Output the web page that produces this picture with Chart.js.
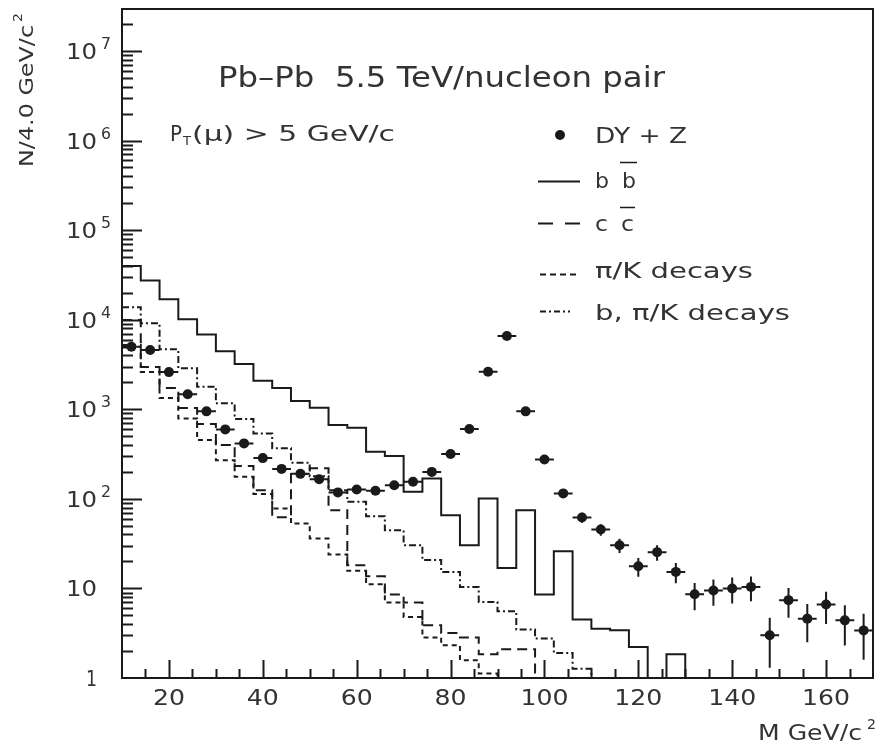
<!DOCTYPE html>
<html>
<head>
<meta charset="utf-8">
<script src="https://cdn.jsdelivr.net/npm/chart.js@4.4.1/dist/chart.umd.min.js"></script>
<style>
html, body { margin: 0; padding: 0; background: #fff; }
#wrap { width: 878px; height: 741px; }
</style>
</head>
<body>
<div id="wrap"><canvas id="massChart" width="878" height="741"></canvas></div>
<script>
// mass bins: centres of 4 GeV bins from 10 to 170 GeV/c2
const massBins = [12, 16, 20, 24, 28, 32, 36, 40, 44, 48, 52, 56, 60, 64, 68, 72, 76, 80, 84, 88,
                  92, 96, 100, 104, 108, 112, 116, 120, 124, 128, 132, 136, 140, 144, 148, 152, 156, 160, 164, 168];
const binHalf = 2;

// DY + Z points and their errors
const dyZ = [4990, 4580, 2600, 1470, 948, 596, 416, 285, 216, 190, 166, 118, 127, 123, 142, 155, 200, 316, 601, 2624,
             6580, 948, 275, 115, 62, 45.5, 30.4, 17.7, 25.4, 15.3, 8.6, 9.5, 10.0, 10.4, 3.0, 7.4, 4.6, 6.6, 4.4, 3.4];
const dyZErr = [71, 68, 51, 38, 31, 24, 20, 17, 15, 14, 13, 11, 11, 11, 12, 12, 14, 18, 25, 51,
                81, 31, 17, 11, 8, 6.7, 5.5, 4.2, 5.0, 3.9, 2.9, 3.1, 3.2, 3.2, 1.7, 2.7, 2.1, 2.6, 2.1, 1.8];

// histograms (0 = empty bin)
const bbHist = [39800, 27300, 16900, 10100, 6830, 4450, 3210, 2080, 1730, 1240, 1040, 666, 621, 335, 300, 120, 169, 65.8, 30.4, 101,
                16.9, 74.8, 8.55, 26.0, 4.49, 3.55, 3.41, 2.22, 0, 1.84, 0, 0, 0, 0, 0, 0, 0, 0, 0, 0];
const ccHist = [9930, 2963, 1726, 1031, 684, 398, 232, 125, 62.5, 189, 219, 74.8, 18.2, 13.7, 8.55, 6.96, 3.88, 3.18, 2.83, 1.84,
                2.09, 2.09, 0, 0, 0, 0, 0, 0, 0, 0, 0, 0, 0, 0, 0, 0, 0, 0, 0, 0];
const piKHist = [5215, 2605, 1334, 791, 453, 270, 176, 113, 78.1, 53.1, 36.1, 23.9, 15.7, 11.1, 6.96, 4.80, 2.83, 2.32, 1.58, 1.12,
                 0, 0, 0, 0, 0, 0, 0, 0, 0, 0, 0, 0, 0, 0, 0, 0, 0, 0, 0, 0];
const bPiKHist = [13770, 9120, 4670, 2865, 1785, 1165, 777, 538, 366, 253, 179, 125, 92.6, 64.1, 44.7, 30.4, 20.7, 15.3, 10.4, 7.07,
                  5.56, 3.47, 2.76, 1.90, 1.27, 0, 0, 0, 0, 0, 0, 0, 0, 0, 0, 0, 0, 0, 0, 0];

// axis ticks
const xTicks = [20, 40, 60, 80, 100, 120, 140, 160];
const yTicks = [1, 10, 1e2, 1e3, 1e4, 1e5, 1e6, 1e7];
const yTickBase = ['1', '10', '10', '10', '10', '10', '10', '10'];
const yTickExp = ['', '', '2', '3', '4', '5', '6', '7'];

const INK = '#1a1a1a';
const TEXT = '#333';
const FONT = '"DejaVu Sans", sans-serif';

// histogram -> step line points (empty bins pushed below the axis, clipped)
function stepPoints(vals) {
    const pts = vals.map((v, i) => ({ x: massBins[i] - binHalf, y: v > 0 ? v : 0.05 }));
    const last = vals[vals.length - 1];
    pts.push({ x: massBins[massBins.length - 1] + binHalf, y: last > 0 ? last : 0.05 });
    return pts;
}

const hBars = [];
const vBars = [];
massBins.forEach((m, i) => {
    hBars.push({ x: m - binHalf, y: dyZ[i] }, { x: m + binHalf, y: dyZ[i] }, { x: m, y: null });
    vBars.push({ x: m, y: dyZ[i] - dyZErr[i] }, { x: m, y: dyZ[i] + dyZErr[i] }, { x: m, y: null });
});

function histSet(label, vals, dash) {
    return {
        label: label,
        data: stepPoints(vals),
        stepped: true,
        borderColor: INK,
        borderWidth: 2,
        borderDash: dash,
        pointRadius: 0,
        fill: false
    };
}

// text squeezed/stretched to the width it has in the picture
function fitText(ctx, text, x, y, width, size, align) {
    ctx.save();
    ctx.font = size + 'px ' + FONT;
    const w = ctx.measureText(text).width;
    ctx.translate(x, y);
    ctx.scale(width / w, 1);
    ctx.textAlign = 'left';
    ctx.textBaseline = 'alphabetic';
    let off = 0;
    if (align === 'right') off = -w;
    if (align === 'center') off = -w / 2;
    ctx.fillText(text, off, 0);
    ctx.restore();
}

const framePlugin = {
    id: 'frame',
    afterDraw(chart) {
        const { ctx, chartArea: a } = chart;
        const xs = chart.scales.x;
        const ys = chart.scales.y;
        ctx.save();
        ctx.strokeStyle = INK;
        ctx.fillStyle = TEXT;
        ctx.lineWidth = 2;
        ctx.setLineDash([]);
        ctx.strokeRect(a.left, a.top, a.right - a.left, a.bottom - a.top);

        // y ticks, drawn inward
        ctx.beginPath();
        for (let d = 0; d <= 7; d++) {
            for (let m = 1; m <= 9; m++) {
                const v = m * Math.pow(10, d);
                if (v === 1) continue;
                if (v > ys.max) break;
                const py = Math.round(ys.getPixelForValue(v)) + 0.5;
                const len = m === 1 ? 20 : 11;
                ctx.moveTo(a.left, py);
                ctx.lineTo(a.left + len, py);
            }
        }
        // x ticks every 5
        for (let v = 15; v < xs.max; v += 5) {
            const px = Math.round(xs.getPixelForValue(v)) + 0.5;
            const len = xTicks.includes(v) ? 18 : 9;
            ctx.moveTo(px, a.bottom);
            ctx.lineTo(px, a.bottom - len);
        }
        ctx.stroke();

        // y tick labels
        yTicks.forEach((v, i) => {
            const py = ys.getPixelForValue(v);
            const w = yTickBase[i].length === 1 ? 11 : 31;
            fitText(ctx, yTickBase[i], 97, py + 8, w, 21, 'right');
            if (yTickExp[i]) fitText(ctx, yTickExp[i], 101, py - 2, 10, 15, 'left');
        });
        // x tick labels
        xTicks.forEach(v => {
            const px = xs.getPixelForValue(v);
            const w = v >= 100 ? 48 : 32;
            fitText(ctx, String(v), px, 705, w, 21, 'center');
        });

        // axis titles
        fitText(ctx, 'M GeV/c', 758, 740, 104, 22, 'left');
        fitText(ctx, '2', 867, 729, 9, 14, 'left');
        ctx.save();
        ctx.translate(33, 167);
        ctx.rotate(-Math.PI / 2);
        fitText(ctx, 'N/4.0 GeV/c', 0, 0, 142, 20, 'left');
        fitText(ctx, '2', 145, -11, 9, 13, 'left');
        ctx.restore();

        // labels in the plot
        fitText(ctx, 'Pb\u2013Pb  5.5 TeV/nucleon pair', 218, 87, 447, 29, 'left');
        fitText(ctx, 'P', 170, 141, 12, 21, 'left');
        fitText(ctx, 'T', 183, 145, 8, 12, 'left');
        fitText(ctx, '(\u03bc) > 5 GeV/c', 192, 141, 203, 21, 'left');

        // legend
        ctx.beginPath();
        ctx.arc(560, 135, 5, 0, Math.PI * 2);
        ctx.fillStyle = INK;
        ctx.fill();
        ctx.fillStyle = TEXT;
        fitText(ctx, 'DY + Z', 595, 143, 92, 21, 'left');

        const legLines = [
            { y: 181.5, dash: [], x0: 538, x1: 580 },
            { y: 223.5, dash: [15, 12], x0: 538, x1: 580 },
            { y: 274.5, dash: [6, 4], x0: 540, x1: 578 },
            { y: 311.5, dash: [6, 3, 2, 3], x0: 540, x1: 570 }
        ];
        ctx.lineWidth = 2;
        legLines.forEach(l => {
            ctx.setLineDash(l.dash);
            ctx.beginPath();
            ctx.moveTo(l.x0, l.y);
            ctx.lineTo(l.x1, l.y);
            ctx.stroke();
        });
        ctx.setLineDash([]);
        fitText(ctx, 'b', 595, 188, 14, 21, 'left');
        fitText(ctx, 'b', 622, 188, 14, 21, 'left');
        fitText(ctx, 'c', 595, 231, 13, 21, 'left');
        fitText(ctx, 'c', 621, 231, 13, 21, 'left');
        ctx.lineWidth = 1.5;
        ctx.beginPath();
        ctx.moveTo(620, 162.5); ctx.lineTo(637, 162.5);
        ctx.moveTo(620, 207.5); ctx.lineTo(635, 207.5);
        ctx.stroke();
        fitText(ctx, '\u03c0/K decays', 595, 278, 158, 21, 'left');
        fitText(ctx, 'b, \u03c0/K decays', 595, 320, 195, 21, 'left');
        ctx.restore();
    }
};

new Chart(document.getElementById('massChart').getContext('2d'), {
    type: 'line',
    data: {
        datasets: [
            histSet('b bbar', bbHist, []),
            histSet('c cbar', ccHist, [10, 6]),
            histSet('pi/K decays', piKHist, [5, 4]),
            histSet('b, pi/K decays', bPiKHist, [7, 3, 2, 3]),
            { label: 'xerr', data: hBars, borderColor: INK, borderWidth: 2, pointRadius: 0, spanGaps: false },
            { label: 'yerr', data: vBars, borderColor: INK, borderWidth: 2, pointRadius: 0, spanGaps: false },
            {
                label: 'DY + Z',
                data: massBins.map((m, i) => ({ x: m, y: dyZ[i] })),
                showLine: false,
                pointRadius: 5,
                pointBackgroundColor: INK,
                pointBorderColor: INK,
                pointBorderWidth: 0
            }
        ]
    },
    options: {
        responsive: false,
        animation: false,
        layout: { padding: { left: 122, right: 3, top: 9, bottom: 63 } },
        plugins: { legend: { display: false }, tooltip: { enabled: false } },
        scales: {
            x: { type: 'linear', min: 10, max: 170, display: false },
            y: { type: 'logarithmic', min: 1, max: 2.94e7, display: false }
        }
    },
    plugins: [framePlugin]
});
</script>
</body>
</html>
